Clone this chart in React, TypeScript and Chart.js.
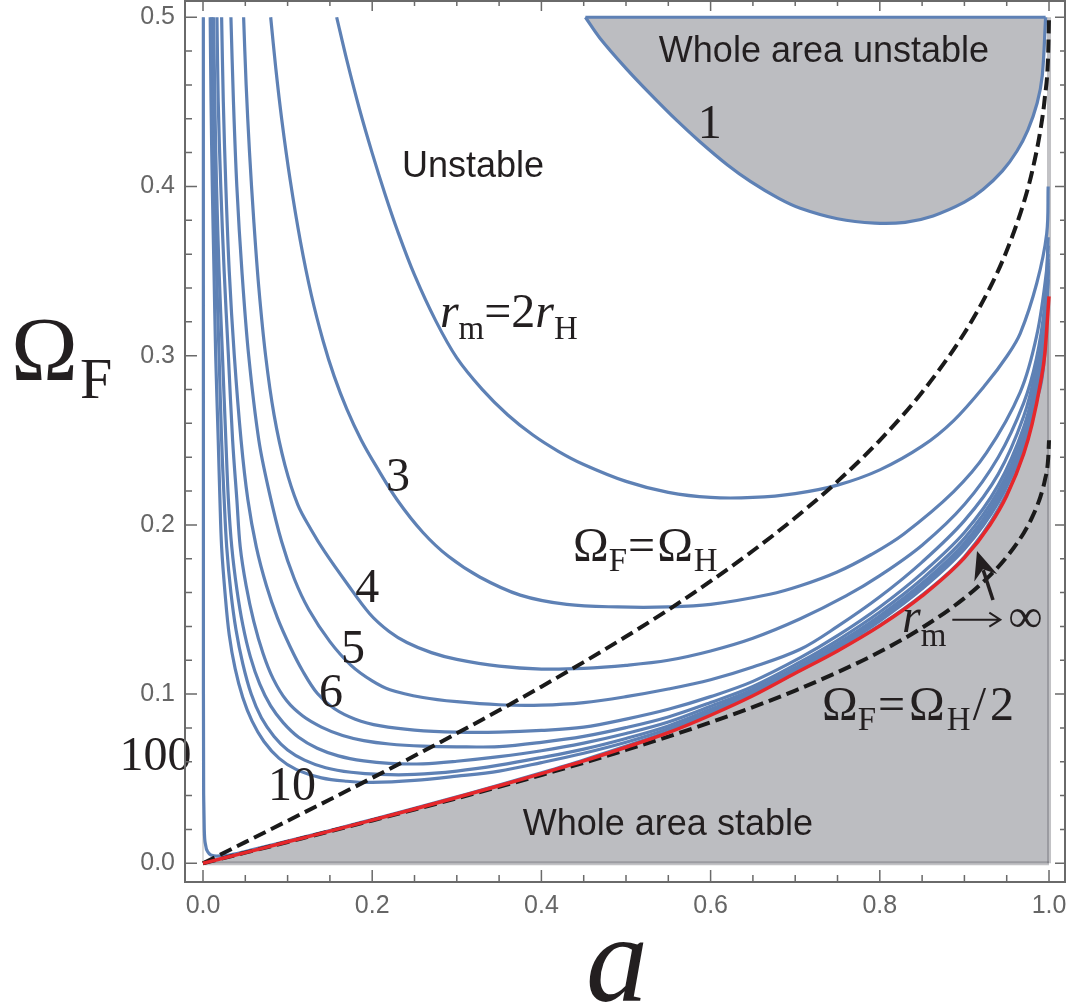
import React, { useEffect, useRef } from "react";
import { Chart, registerables } from "chart.js";
Chart.register(...registerables);

// ---------- data (a = spin, W = Omega_F) ----------
const redA = [0, 0.02, 0.05, 0.1, 0.15, 0.2, 0.25, 0.3, 0.35, 0.4, 0.45, 0.5, 0.55, 0.6, 0.65, 0.7, 0.75, 0.8, 0.85, 0.9, 0.93, 0.95, 0.97, 0.98, 0.99, 0.995, 1.0];
const redW = [0, 0.0025, 0.0063, 0.0127, 0.019, 0.0255, 0.0321, 0.0389, 0.0458, 0.053, 0.0605, 0.0686, 0.0772, 0.0875, 0.099, 0.1123, 0.1255, 0.1403, 0.158, 0.1805, 0.1998, 0.2172, 0.2419, 0.2595, 0.2841, 0.3008, 0.335];

const ohA = [0, 0.05, 0.1, 0.15, 0.2, 0.25, 0.3, 0.35, 0.4, 0.45, 0.5, 0.55, 0.6, 0.65, 0.7, 0.75, 0.8, 0.85, 0.9, 0.93, 0.95, 0.97, 0.98, 0.99, 0.995, 0.999, 1.0];
const ohW = [0, 0.0125, 0.0251, 0.0377, 0.0505, 0.0635, 0.0768, 0.0904, 0.1044, 0.1189, 0.134, 0.1498, 0.1667, 0.1847, 0.2042, 0.2257, 0.25, 0.2784, 0.3134, 0.34, 0.362, 0.3902, 0.4087, 0.4338, 0.4523, 0.4781, 0.5];
const ohHalfW = [0, 0.0063, 0.0126, 0.0189, 0.0253, 0.0318, 0.0384, 0.0452, 0.0522, 0.0594, 0.067, 0.0749, 0.0833, 0.0923, 0.1021, 0.1129, 0.125, 0.1392, 0.1567, 0.17, 0.181, 0.1951, 0.2044, 0.2169, 0.2262, 0.2391, 0.25];

const c1A = [0.452, 0.469, 0.5, 0.528, 0.56, 0.587, 0.62, 0.647, 0.68, 0.706, 0.75, 0.794, 0.83, 0.863, 0.9, 0.922, 0.945, 0.962, 0.975, 0.986, 0.992, 0.996];
const c1W = [0.5, 0.4878, 0.4698, 0.455, 0.439, 0.4266, 0.4127, 0.403, 0.3931, 0.3871, 0.3809, 0.3783, 0.3788, 0.3826, 0.3907, 0.3982, 0.4092, 0.4208, 0.4333, 0.4493, 0.4653, 0.5];

const c2A = [0.158, 0.17, 0.185, 0.2, 0.215, 0.23, 0.25, 0.275, 0.3, 0.33, 0.36, 0.39, 0.42, 0.45, 0.5, 0.55, 0.6, 0.65, 0.7, 0.75, 0.8, 0.85, 0.887, 0.926, 0.95, 0.966, 0.9855, 0.9973, 0.999];
const c2W = [0.5, 0.4746, 0.4456, 0.4197, 0.3957, 0.3737, 0.3477, 0.3207, 0.2987, 0.2801, 0.2651, 0.2531, 0.2435, 0.2357, 0.2257, 0.2192, 0.2162, 0.2162, 0.2185, 0.2235, 0.2325, 0.2465, 0.2615, 0.2835, 0.2995, 0.3132, 0.3428, 0.3723, 0.4];

const c3A = [0.08, 0.086, 0.093, 0.103, 0.115, 0.128, 0.142, 0.155, 0.17, 0.187, 0.205, 0.23, 0.26, 0.29, 0.327, 0.375, 0.43, 0.49, 0.55, 0.6, 0.67, 0.706, 0.749, 0.79, 0.828, 0.887, 0.926, 0.966, 0.9855, 0.997, 0.999];
const c3W = [0.5, 0.47, 0.4399, 0.4039, 0.3679, 0.336, 0.3087, 0.2879, 0.2684, 0.2502, 0.2344, 0.2144, 0.1955, 0.1814, 0.1692, 0.1585, 0.153, 0.1515, 0.1515, 0.153, 0.159, 0.164, 0.172, 0.1825, 0.1945, 0.2195, 0.2425, 0.2785, 0.312, 0.35, 0.37];

const c4A = [0.048, 0.051, 0.055, 0.06, 0.066, 0.074, 0.084, 0.097, 0.112, 0.128, 0.144, 0.17, 0.197, 0.22, 0.241, 0.27, 0.3, 0.35, 0.4, 0.45, 0.5, 0.55, 0.6, 0.65, 0.706, 0.76, 0.8, 0.85, 0.9, 0.94, 0.97, 0.985, 0.995, 0.999];
const c4W = [0.5, 0.46, 0.42, 0.38, 0.34, 0.3, 0.265, 0.235, 0.212, 0.197, 0.184, 0.1655, 0.1475, 0.137, 0.1305, 0.1245, 0.1205, 0.1165, 0.1148, 0.1152, 0.117, 0.12, 0.1255, 0.133, 0.1445, 0.158, 0.17, 0.188, 0.212, 0.24, 0.272, 0.298, 0.33, 0.365];

const c5A = [0.033, 0.036, 0.04, 0.046, 0.054, 0.066, 0.078, 0.093, 0.108, 0.125, 0.15, 0.175, 0.2, 0.221, 0.26, 0.3, 0.35, 0.4, 0.45, 0.5, 0.55, 0.6, 0.65, 0.706, 0.75, 0.8, 0.85, 0.9, 0.94, 0.97, 0.985, 0.995, 0.999];
const c5W = [0.5, 0.45, 0.4, 0.35, 0.3, 0.25, 0.22, 0.19, 0.168, 0.15, 0.131, 0.117, 0.1078, 0.1026, 0.098, 0.0955, 0.0937, 0.0935, 0.095, 0.0985, 0.103, 0.1085, 0.116, 0.1265, 0.14, 0.1575, 0.178, 0.2025, 0.23, 0.264, 0.293, 0.325, 0.36];

const c6A = [0.022, 0.024, 0.027, 0.031, 0.037, 0.045, 0.053, 0.063, 0.075, 0.088, 0.103, 0.118, 0.135, 0.155, 0.18, 0.21, 0.25, 0.3, 0.35, 0.4, 0.45, 0.5, 0.55, 0.6, 0.65, 0.706, 0.75, 0.8, 0.85, 0.9, 0.94, 0.97, 0.985, 0.995, 0.999];
const c6W = [0.5, 0.45, 0.4, 0.35, 0.3, 0.25, 0.215, 0.187, 0.164, 0.145, 0.128, 0.1135, 0.1005, 0.0915, 0.0852, 0.0812, 0.0787, 0.0775, 0.0775, 0.0785, 0.0805, 0.0852, 0.091, 0.0985, 0.1075, 0.1215, 0.1345, 0.1515, 0.1715, 0.1955, 0.2235, 0.2575, 0.287, 0.319, 0.357];

const c7A = [0.0165, 0.018, 0.021, 0.025, 0.03, 0.035, 0.04, 0.044, 0.051, 0.06, 0.071, 0.083, 0.099, 0.118, 0.14, 0.165, 0.19, 0.22, 0.26, 0.3, 0.35, 0.4, 0.45, 0.5, 0.55, 0.6, 0.65, 0.706, 0.75, 0.8, 0.85, 0.9, 0.94, 0.97, 0.985, 0.995, 0.999];
const c7W = [0.5, 0.45, 0.4, 0.35, 0.3, 0.25, 0.215, 0.187, 0.164, 0.143, 0.124, 0.109, 0.096, 0.087, 0.0805, 0.0755, 0.0725, 0.0705, 0.0692, 0.0688, 0.069, 0.0715, 0.075, 0.0802, 0.0865, 0.095, 0.1045, 0.119, 0.1318, 0.1485, 0.168, 0.192, 0.22, 0.2535, 0.283, 0.315, 0.355];

const c8A = [0.0125, 0.014, 0.016, 0.019, 0.023, 0.027, 0.03, 0.034, 0.04, 0.047, 0.056, 0.067, 0.08, 0.095, 0.113, 0.135, 0.16, 0.19, 0.22, 0.26, 0.3, 0.35, 0.4, 0.45, 0.5, 0.55, 0.6, 0.65, 0.706, 0.75, 0.8, 0.85, 0.9, 0.94, 0.97, 0.985, 0.995, 0.999];
const c8W = [0.5, 0.45, 0.4, 0.35, 0.3, 0.25, 0.215, 0.187, 0.162, 0.141, 0.122, 0.106, 0.093, 0.083, 0.0745, 0.068, 0.0635, 0.0605, 0.059, 0.0588, 0.0603, 0.063, 0.0665, 0.071, 0.0767, 0.0835, 0.0928, 0.1028, 0.1172, 0.1298, 0.1463, 0.1655, 0.1893, 0.2172, 0.2505, 0.28, 0.312, 0.353];

const c9A = [0.0105, 0.012, 0.0135, 0.016, 0.019, 0.022, 0.025, 0.028, 0.033, 0.039, 0.047, 0.057, 0.069, 0.084, 0.1, 0.12, 0.145, 0.175, 0.21, 0.25, 0.3, 0.35, 0.4, 0.45, 0.5, 0.55, 0.6, 0.65, 0.706, 0.75, 0.8, 0.85, 0.9, 0.94, 0.97, 0.985, 0.995, 0.999];
const c9W = [0.5, 0.45, 0.4, 0.35, 0.3, 0.25, 0.215, 0.187, 0.16, 0.138, 0.118, 0.1, 0.086, 0.075, 0.067, 0.061, 0.0565, 0.0538, 0.0525, 0.0525, 0.0545, 0.058, 0.0625, 0.0675, 0.0738, 0.0812, 0.091, 0.1015, 0.116, 0.1283, 0.1447, 0.1637, 0.1873, 0.215, 0.248, 0.2775, 0.3095, 0.351];

const c10A = [0.0085, 0.0095, 0.011, 0.013, 0.015, 0.018, 0.02, 0.022, 0.026, 0.031, 0.038, 0.047, 0.058, 0.072, 0.09, 0.11, 0.14, 0.17, 0.2, 0.25, 0.3, 0.35, 0.4, 0.45, 0.5, 0.55, 0.6, 0.65, 0.706, 0.75, 0.8, 0.85, 0.9, 0.94, 0.97, 0.985, 0.995, 0.999];
const c10W = [0.5, 0.45, 0.4, 0.35, 0.3, 0.25, 0.215, 0.187, 0.16, 0.135, 0.115, 0.098, 0.084, 0.072, 0.062, 0.0555, 0.0505, 0.0485, 0.0478, 0.049, 0.0515, 0.0545, 0.0595, 0.065, 0.0715, 0.0795, 0.0895, 0.1005, 0.115, 0.1272, 0.1433, 0.1622, 0.1856, 0.2132, 0.2462, 0.2755, 0.3075, 0.35];

const c100A = [0.0004, 0.0005, 0.0008, 0.0015, 0.003, 0.006, 0.01, 0.016, 0.025, 0.04, 0.06, 0.1, 0.15, 0.2, 0.25, 0.3, 0.35, 0.4, 0.45, 0.5, 0.55, 0.6, 0.65, 0.706, 0.75, 0.8, 0.85, 0.9, 0.94, 0.97, 0.985, 0.995, 0.999];
const c100W = [0.5, 0.1, 0.04, 0.02, 0.011, 0.0065, 0.0048, 0.0043, 0.0045, 0.0058, 0.0082, 0.0132, 0.0194, 0.0259, 0.0325, 0.0393, 0.0462, 0.0535, 0.0611, 0.0693, 0.0779, 0.0882, 0.0997, 0.1142, 0.1259, 0.1408, 0.1586, 0.1812, 0.2093, 0.2428, 0.2727, 0.3018, 0.345];

// region bounds (a range and Omega range of the plotted domain)
const edgeA = [0, 1];
const edgeW = [0, 0.5];

// ticks
const xMajor = [0, 0.2, 0.4, 0.6, 0.8, 1.0];
const xMinor = [0.05, 0.1, 0.15, 0.25, 0.3, 0.35, 0.45, 0.5, 0.55, 0.65, 0.7, 0.75, 0.85, 0.9, 0.95];
const yMajor = [0, 0.1, 0.2, 0.3, 0.4, 0.5];
const yMinor = [0.02, 0.04, 0.06, 0.08, 0.12, 0.14, 0.16, 0.18, 0.22, 0.24, 0.26, 0.28, 0.32, 0.34, 0.36, 0.38, 0.42, 0.44, 0.46, 0.48];

// ---------- styles ----------
const BLUE = "#5e81b5";
const RED = "#e6272b";
const FILL = "#bcbdc1";
const TEXT = "#231f20";
const FRAME = "#6a6a6a";
const SERIF = "'Liberation Serif', 'Times New Roman', serif";
const SANS = "'Liberation Sans', Arial, sans-serif";

type Part = { t: string; size: number; italic?: boolean; sans?: boolean; dy?: number; gap?: number; arrow?: number };
type Label = { parts: Part[]; a: number; w: number; align: "left" | "center" };

const M = 48; // main math size
const S = 33; // subscript size
const labels: Label[] = [
  { parts: [{ t: "Whole area unstable", size: 36, sans: true }], a: 0.734, w: 0.4736, align: "center" },
  { parts: [{ t: "Unstable", size: 36, sans: true }], a: 0.2352, w: 0.4058, align: "left" },
  { parts: [{ t: "Whole area stable", size: 36, sans: true }], a: 0.378, w: 0.0167, align: "left" },
  { parts: [{ t: "1", size: 48 }], a: 0.599, w: 0.4285, align: "center" },
  { parts: [{ t: "3", size: 48 }], a: 0.2305, w: 0.2199, align: "center" },
  { parts: [{ t: "4", size: 48 }], a: 0.194, w: 0.1544, align: "center" },
  { parts: [{ t: "5", size: 48 }], a: 0.1773, w: 0.1184, align: "center" },
  { parts: [{ t: "6", size: 48 }], a: 0.1513, w: 0.0924, align: "center" },
  { parts: [{ t: "10", size: 48 }], a: 0.1052, w: 0.0374, align: "center" },
  { parts: [{ t: "100", size: 48 }], a: -0.0561, w: 0.0551, align: "center" },
  {
    parts: [
      { t: "r", size: 48, italic: true },
      { t: "m", size: S, dy: 12 },
      { t: "=2", size: 48 },
      { t: "r", size: 48, italic: true },
      { t: "H", size: S, dy: 12 },
    ],
    a: 0.28, w: 0.317, align: "left",
  },
  {
    parts: [
      { t: "Ω", size: M },
      { t: "F", size: S, dy: 10 },
      { t: "=", size: M, gap: 1 },
      { t: "Ω", size: M, gap: 1 },
      { t: "H", size: S, dy: 10 },
    ],
    a: 0.4374, w: 0.1788, align: "left",
  },
  {
    parts: [
      { t: "Ω", size: M },
      { t: "F", size: S, dy: 10 },
      { t: "=", size: M, gap: 2 },
      { t: "Ω", size: M, gap: 2 },
      { t: "H", size: S, dy: 10 },
      { t: "/", size: M, gap: 2 },
      { t: "2", size: M, gap: 2 },
    ],
    a: 0.7317, w: 0.0847, align: "left",
  },
  {
    parts: [
      { t: "r", size: M, italic: true },
      { t: "m", size: S, dy: 14 },
      { t: "", size: M, gap: 6, arrow: 48 },
      { t: "∞", size: M, gap: 2 },
    ],
    a: 0.8262, w: 0.1369, align: "left",
  },
];
const arrowTail = { a: 0.9338, w: 0.1556 };
const arrowTip = { a: 0.9149, w: 0.1845 };

function fontOf(p: Part) {
  return `${p.italic ? "italic " : ""}${p.size}px ${p.sans ? SANS : SERIF}`;
}
function partWidth(ctx: CanvasRenderingContext2D, p: Part) {
  if (p.arrow) return p.arrow;
  ctx.font = fontOf(p);
  return ctx.measureText(p.t).width;
}
function drawRich(ctx: CanvasRenderingContext2D, x: number, y: number, parts: Part[], align: string) {
  let total = 0;
  for (const p of parts) total += 2 * (p.gap || 0) + partWidth(ctx, p);
  let cx = align === "center" ? x - total / 2 : x;
  for (const p of parts) {
    cx += p.gap || 0;
    const w = partWidth(ctx, p);
    if (p.arrow) {
      const ay = y - 12;
      ctx.save();
      ctx.strokeStyle = TEXT;
      ctx.lineWidth = 2;
      ctx.beginPath();
      ctx.moveTo(cx, ay);
      ctx.lineTo(cx + w, ay);
      ctx.moveTo(cx + w - 11, ay - 7);
      ctx.lineTo(cx + w, ay);
      ctx.lineTo(cx + w - 11, ay + 7);
      ctx.stroke();
      ctx.restore();
    } else {
      ctx.font = fontOf(p);
      ctx.fillText(p.t, cx, y + (p.dy || 0));
    }
    cx += w + (p.gap || 0);
  }
}

const overlay = {
  id: "overlay",
  afterDatasetsDraw(chart: any) {
    const { ctx, chartArea: ca, scales } = chart;
    const xs = scales.x;
    const ys = scales.y;
    ctx.save();
    // arrow
    const tx = xs.getPixelForValue(arrowTail.a), ty = ys.getPixelForValue(arrowTail.w);
    const hx = xs.getPixelForValue(arrowTip.a), hy = ys.getPixelForValue(arrowTip.w);
    const ang = Math.atan2(hy - ty, hx - tx);
    const L = 28, Wd = 12;
    const bx = hx - L * Math.cos(ang), by = hy - L * Math.sin(ang);
    ctx.strokeStyle = TEXT;
    ctx.lineWidth = 3.5;
    ctx.beginPath();
    ctx.moveTo(tx, ty);
    ctx.lineTo(bx + 8 * Math.cos(ang), by + 8 * Math.sin(ang));
    ctx.stroke();
    ctx.fillStyle = TEXT;
    ctx.beginPath();
    ctx.moveTo(hx, hy);
    ctx.lineTo(bx - Wd * Math.sin(ang), by + Wd * Math.cos(ang));
    ctx.lineTo(bx + 9 * Math.cos(ang), by + 9 * Math.sin(ang));
    ctx.lineTo(bx + Wd * Math.sin(ang), by - Wd * Math.cos(ang));
    ctx.closePath();
    ctx.fill();

    // labels
    ctx.fillStyle = TEXT;
    ctx.textBaseline = "alphabetic";
    ctx.textAlign = "left";
    for (const lb of labels) {
      drawRich(ctx, xs.getPixelForValue(lb.a), ys.getPixelForValue(lb.w), lb.parts, lb.align);
    }

    // frame
    ctx.strokeStyle = FRAME;
    ctx.lineWidth = 2;
    ctx.strokeRect(ca.left, ca.top, ca.right - ca.left, ca.bottom - ca.top);
    ctx.lineWidth = 1.5;
    ctx.beginPath();
    const tick = (vals: number[], len: number, lenTop: number) => {
      for (const v of vals) {
        const px = xs.getPixelForValue(v);
        ctx.moveTo(px, ca.bottom); ctx.lineTo(px, ca.bottom - len);
        ctx.moveTo(px, ca.top); ctx.lineTo(px, ca.top + lenTop);
      }
    };
    const tickY = (vals: number[], len: number, lenR: number) => {
      for (const v of vals) {
        const py = ys.getPixelForValue(v);
        ctx.moveTo(ca.left, py); ctx.lineTo(ca.left + len, py);
        ctx.moveTo(ca.right, py); ctx.lineTo(ca.right - lenR, py);
      }
    };
    tick(xMajor, 12, 10);
    tick(xMinor, 7, 5);
    tickY(yMajor, 12, 10);
    tickY(yMinor, 7, 5);
    ctx.stroke();

    // axis titles
    ctx.fillStyle = TEXT;
    ctx.font = `90px ${SERIF}`;
    ctx.fillText("Ω", 11, 380);
    ctx.font = `58px ${SERIF}`;
    ctx.fillText("F", 80, 398);
    ctx.font = `italic 124px ${SERIF}`;
    ctx.textAlign = "center";
    ctx.fillText("a", 617, 1001);
    ctx.restore();
  },
};

const pts = (A: number[], W: number[]) => A.map((a, i) => ({ x: a, y: W[i] }));
const curve = (label: string, A: number[], W: number[], color: string, width: number, order: number, extra: any = {}) => ({
  label,
  data: pts(A, W),
  borderColor: color,
  borderWidth: width,
  pointRadius: 0,
  fill: false,
  cubicInterpolationMode: "monotone",
  order,
  ...extra,
});
const smooth = { cubicInterpolationMode: "default", tension: 0.35 };
const straight = { cubicInterpolationMode: "default", tension: 0 };

const noPad = (s: any) => {
  s.paddingTop = 0;
  s.paddingBottom = 0;
  s.paddingLeft = 0;
  s.paddingRight = 0;
};

export default function App() {
  const ref = useRef<HTMLCanvasElement>(null);
  useEffect(() => {
    const edgeLine = "rgba(110,110,116,0.42)";
    const datasets: any[] = [
      curve("stable region", redA, redW, "rgba(0,0,0,0)", 0, 100, { fill: "origin", backgroundColor: FILL }),
      curve("r_m = r_H", c1A, c1W, BLUE, 3.2, 60, { fill: { value: edgeW[1] }, backgroundColor: FILL, ...smooth }),
      curve("axis a=0", [edgeA[0], edgeA[0]], edgeW, "rgba(150,150,150,0.35)", 2, 80, straight),
      curve("a=1", [edgeA[1], edgeA[1]], edgeW, edgeLine, 4, 80, straight),
      curve("Omega=0", edgeA, [edgeW[0], edgeW[0]], edgeLine, 4, 80, straight),
      curve("top edge", [c1A[0], c1A[c1A.length - 1]], [edgeW[1], edgeW[1]], BLUE, 3.2, 60, straight),
      curve("2", c2A, c2W, BLUE, 3.2, 50, smooth),
      curve("3", c3A, c3W, BLUE, 3.2, 50, smooth),
      curve("4", c4A, c4W, BLUE, 3.2, 50, smooth),
      curve("5", c5A, c5W, BLUE, 3.2, 50, smooth),
      curve("6", c6A, c6W, BLUE, 3.2, 50, smooth),
      curve("7", c7A, c7W, BLUE, 3.2, 50, smooth),
      curve("8", c8A, c8W, BLUE, 3.2, 50, smooth),
      curve("9", c9A, c9W, BLUE, 3.2, 50, smooth),
      curve("10", c10A, c10W, BLUE, 3.2, 50, smooth),
      curve("100", c100A, c100W, BLUE, 3.2, 50),
      curve("OmegaH", ohA, ohW, "#1a1a1a", 4, 20, { borderDash: [13, 6] }),
      curve("OmegaH/2", ohA, ohHalfW, "#1a1a1a", 4, 20, { borderDash: [13, 6] }),
      curve("r_m -> inf", redA, redW, RED, 3.5, 10),
    ];
    const tickFont = { family: SANS, size: 25 };
    const chart = new Chart(ref.current as HTMLCanvasElement, {
      type: "line",
      data: { datasets },
      options: {
        responsive: false,
        animation: false,
        devicePixelRatio: 1,
        layout: { padding: { left: 0, top: 1, right: 7, bottom: 0 } },
        plugins: {
          legend: { display: false },
          tooltip: { enabled: false },
          filler: { drawTime: "beforeDatasetsDraw", propagate: false },
        },
        scales: {
          x: {
            type: "linear",
            min: -0.02128,
            max: 1.0189,
            afterBuildTicks: (s: any) => { s.ticks = xMajor.map((v) => ({ value: v })); },
            afterFit: (s: any) => { s.height = 126; noPad(s); },
            ticks: { callback: (v: any) => Number(v).toFixed(1), font: tickFont, color: "#666666", padding: 9, maxRotation: 0, autoSkip: false },
            grid: { display: false, drawTicks: false },
            border: { display: false },
          },
          y: {
            type: "linear",
            min: -0.01105,
            max: 0.5096,
            afterBuildTicks: (s: any) => { s.ticks = yMajor.map((v) => ({ value: v })); },
            afterFit: (s: any) => { s.width = 185; noPad(s); },
            ticks: { callback: (v: any) => Number(v).toFixed(1), font: tickFont, color: "#666666", padding: 10, autoSkip: false },
            grid: { display: false, drawTicks: false },
            border: { display: false },
          },
        },
      } as any,
      plugins: [overlay as any],
    });
    return () => chart.destroy();
  }, []);
  return (
    <div style={{ position: "absolute", left: 0, top: 0, width: 1072, height: 1008, background: "#fff" }}>
      <canvas ref={ref} width={1072} height={1008} style={{ width: 1072, height: 1008, display: "block" }} />
    </div>
  );
}
